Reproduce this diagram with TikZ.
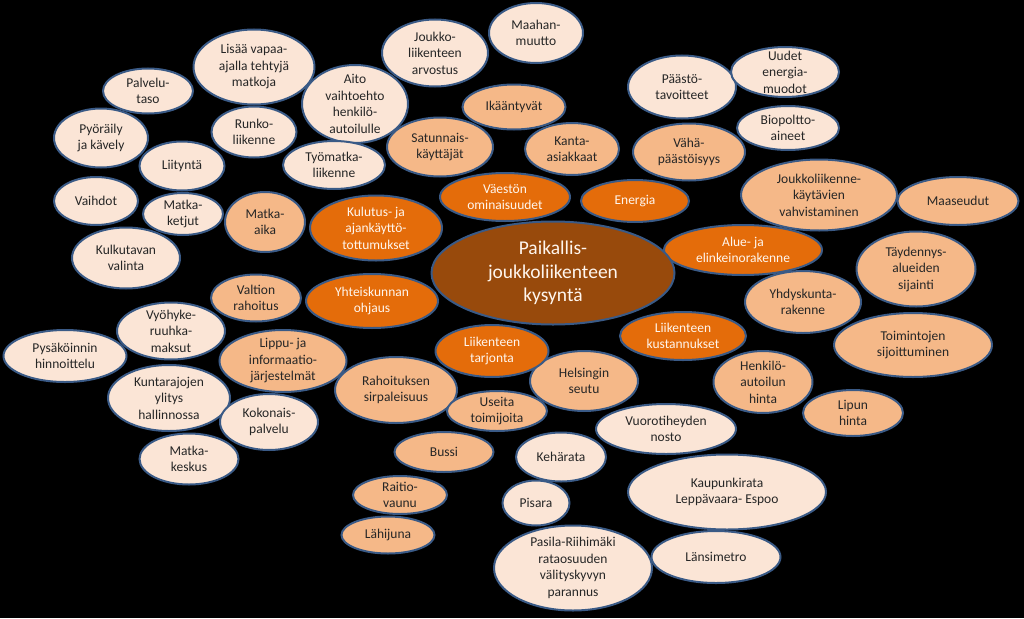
\documentclass[tikz,border=0pt]{standalone}
\usepackage{fontspec}
\setmainfont{Carlito}
\usetikzlibrary{shapes.geometric}
\definecolor{lt}{HTML}{FBE5D6}
\definecolor{md}{HTML}{F5B888}
\definecolor{dk}{HTML}{E46C0A}
\definecolor{brn}{HTML}{984A0C}
\definecolor{bd}{HTML}{3A5A86}
\definecolor{tx}{HTML}{262626}
\definecolor{wt}{HTML}{FFF6EE}
\tikzset{
  bub/.style={ellipse, draw=bd, line width=2pt, inner sep=0pt},
  lb/.style={bub, fill=lt},
  mb/.style={bub, fill=md},
  db/.style={bub, fill=dk},
  cb/.style={bub, fill=brn},
  basetxt/.style={align=center, inner sep=0pt, font=\fontsize{13.5}{16.5}\selectfont},
  lbtxt/.style={basetxt, text=tx},
  mbtxt/.style={basetxt, text=tx},
  dbtxt/.style={basetxt, text=wt},
  cbtxt/.style={basetxt, text=wt, font=\fontsize{19.5}{23.5}\selectfont},
}
\newcommand\bub[7]{%
  \node[#6, minimum width=#4pt, minimum height=#5pt] (#1) at (#2,#3) {};
  \node[#6txt] (#1t) at (#1.center) {#7};}
\begin{document}
\begin{tikzpicture}[x=1pt,y=-1pt]
\fill[black] (0,0) rectangle (1024,618);
\useasboundingbox (0,0) rectangle (1024,618);
% light
\bub{pal}{148}{91}{90}{45}{lb}{Palvelu-\\taso}
\bub{lis}{254}{67}{121}{75}{lb}{Lisää vapaa-\\ajalla tehtyjä\\matkoja}
\bub{pyo}{101}{138}{94}{59}{lb}{Pyöräily\\ja kävely}
\bub{run}{254}{132}{85}{51}{lb}{Runko-\\liikenne}
\bub{lii}{182}{166}{85}{49}{lb}{Liityntä}
\bub{ait}{355}{104}{106}{78}{lb}{Aito\\vaihtoehto\\henkilö-\\autoilulle}
\bub{tyo}{334}{165}{102}{48}{lb}{Työmatka-\\liikenne}
\bub{jar}{435}{53}{106}{67}{lb}{Joukko-\\liikenteen\\arvostus}
\bub{maa}{536}{33}{94}{60}{lb}{Maahan-\\muutto}
\bub{paa}{682}{87}{108}{63}{lb}{Päästö-\\tavoitteet}
\bub{uud}{785}{72}{108}{50}{lb}{Uudet\\energia-\\muodot}
\bub{bio}{788}{128}{102}{44}{lb}{Biopoltto-\\aineet}
\bub{vai}{96}{201}{84}{48}{lb}{Vaihdot}
\bub{mke}{183}{214}{80}{42}{lb}{Matka-\\ketjut}
\bub{kul}{126}{258}{108}{61}{lb}{Kulkutavan\\valinta}
\bub{vyo}{171}{331}{108}{57}{lb}{Vyöhyke-\\ruuhka-\\maksut}
\bub{pys}{65}{356}{123}{52}{lb}{Pysäköinnin\\hinnoittelu}
\bub{kun}{169}{398}{122}{66}{lb}{Kuntarajojen\\ylitys\\hallinnossa}
\bub{kok}{269}{422}{98}{56}{lb}{Kokonais-\\palvelu}
\bub{mks}{189}{459}{99}{51}{lb}{Matka-\\keskus}
\bub{vuo}{666}{429}{140}{50}{lb}{Vuorotiheyden\\nosto}
\bub{keh}{561}{457}{90}{49}{lb}{Kehärata}
\bub{kau}{727}{492}{198}{75}{lb}{Kaupunkirata\\Leppävaara- Espoo}
\bub{pis}{536}{503}{67}{45}{lb}{Pisara}
\bub{pas}{573}{568}{158}{85}{lb}{Pasila-Riihimäki\\rataosuuden\\välityskyvyn\\parannus}
\bub{lan}{716}{557}{129}{52}{lb}{Länsimetro}
% medium
\bub{ika}{514}{107}{103}{45}{mb}{Ikääntyvät}
\bub{sat}{440}{147}{106}{59}{mb}{Satunnais-\\käyttäjät}
\bub{kan}{572}{149}{94}{52}{mb}{Kanta-\\asiakkaat}
\bub{vah}{689}{152}{112}{57}{mb}{Vähä-\\päästöisyys}
\bub{jkv}{819}{195}{156}{71}{mb}{Joukkoliikenne-\\käytävien\\vahvistaminen}
\bub{mse}{958}{201}{121}{48}{mb}{Maaseudut}
\bub{mai}{265}{222}{80}{60}{mb}{Matka-\\aika}
\bub{val}{256}{298}{90}{47}{mb}{Valtion\\rahoitus}
\bub{lip}{283}{361}{127}{62}{mb}{Lippu- ja\\informaatio-\\järjestelmät}
\bub{rah}{396}{390}{122}{66}{mb}{Rahoituksen\\sirpaleisuus}
\bub{use}{497}{411}{100}{40}{mb}{Useita\\toimijoita}
\bub{hel}{584}{381}{108}{60}{mb}{Helsingin\\seutu}
\bub{bus}{444}{452}{99}{40}{mb}{Bussi}
\bub{rai}{400}{495}{94}{38}{mb}{Raitio-\\vaunu}
\bub{lah}{388}{535}{93}{37}{mb}{Lähijuna}
\bub{yhd}{803}{302}{116}{62}{mb}{Yhdyskunta-\\rakenne}
\bub{tay}{916}{269}{119}{75}{mb}{Täydennys-\\alueiden\\sijainti}
\bub{toi}{913}{345}{158}{64}{mb}{Toimintojen\\sijoittuminen}
\bub{hen}{763}{382}{99}{62}{mb}{Henkilö-\\autoilun\\hinta}
\bub{lph}{853}{413}{100}{46}{mb}{Lipun\\hinta}
% dark
\bub{vae}{505}{197}{130}{48}{db}{Väestön\\ominaisuudet}
\bub{ene}{635}{201}{108}{42}{db}{Energia}
\bub{kut}{376}{228}{132}{65}{db}{Kulutus- ja\\ajankäyttö-\\tottumukset}
\bub{yht}{372}{301}{132}{54}{db}{Yhteiskunnan\\ohjaus}
\bub{alu}{743}{250}{158}{50}{db}{Alue- ja\\elinkeinorakenne}
\bub{ltj}{492}{351}{113}{52}{db}{Liikenteen\\tarjonta}
\bub{lku}{683}{336}{126}{48}{db}{Liikenteen\\kustannukset}
% centre
\bub{cen}{553}{273}{243}{103}{cb}{Paikallis-\\joukkoliikenteen\\kysyntä}
\end{tikzpicture}
\end{document}
